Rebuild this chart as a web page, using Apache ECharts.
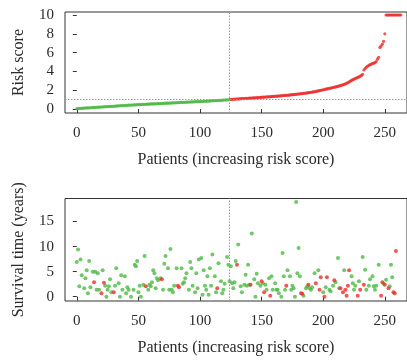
<!DOCTYPE html>
<html><head><meta charset="utf-8">
<script src="https://cdn.jsdelivr.net/npm/echarts@6/dist/echarts.min.js"></script>
<style>html,body{margin:0;padding:0;background:#fff}#c{width:407px;height:362px}</style>
</head><body><div id="c"></div><script>
const xTicks = [0, 50, 100, 150, 200, 250];
const riskTicks = [0, 2, 4, 6, 8, 10];
const survTicks = [0, 5, 10, 15];
const cutoffPatient = 124;
const riskCutoff = 1.0;
const xTitle = 'Patients (increasing risk score)';
const riskTitle = 'Risk score';
const survTitle = 'Survival time (years)';

// risk scores, low-risk group (patients 0..124)
const lowRisk = [
0.04,0.05,0.06,0.07,0.08,0.09,0.10,0.11,0.12,0.12,
0.13,0.14,0.15,0.16,0.17,0.18,0.19,0.20,0.20,0.21,
0.22,0.23,0.24,0.25,0.25,0.26,0.27,0.28,0.29,0.29,
0.30,0.31,0.32,0.33,0.34,0.35,0.36,0.37,0.37,0.38,
0.39,0.40,0.41,0.42,0.42,0.43,0.44,0.45,0.45,0.46,
0.47,0.47,0.48,0.49,0.50,0.50,0.51,0.52,0.52,0.53,
0.54,0.54,0.55,0.56,0.56,0.57,0.58,0.58,0.59,0.60,
0.60,0.61,0.62,0.62,0.63,0.64,0.64,0.65,0.66,0.66,
0.67,0.68,0.68,0.69,0.70,0.70,0.71,0.72,0.72,0.73,
0.74,0.74,0.75,0.76,0.76,0.77,0.78,0.78,0.79,0.80,
0.80,0.81,0.82,0.82,0.83,0.84,0.85,0.85,0.86,0.87,
0.88,0.88,0.89,0.90,0.91,0.92,0.92,0.93,0.94,0.95,
0.96,0.97,0.98,0.99,1.00];
// risk scores, high-risk group (patients 125..263)
const highRisk = [
1.02,1.03,1.04,1.05,1.06,1.07,1.08,1.09,1.10,1.10,
1.11,1.12,1.13,1.14,1.15,1.16,1.17,1.17,1.18,1.19,
1.20,1.21,1.22,1.23,1.24,1.25,1.26,1.27,1.28,1.29,
1.30,1.31,1.32,1.33,1.34,1.35,1.36,1.37,1.38,1.39,
1.40,1.41,1.42,1.44,1.45,1.46,1.47,1.48,1.50,1.51,
1.53,1.54,1.56,1.57,1.59,1.60,1.62,1.63,1.65,1.67,
1.68,1.70,1.72,1.74,1.76,1.78,1.80,1.82,1.84,1.87,
1.90,1.93,1.96,1.99,2.02,2.05,2.08,2.11,2.14,2.17,
2.20,2.23,2.26,2.29,2.32,2.35,2.38,2.42,2.46,2.50,
2.54,2.58,2.62,2.68,2.74,2.80,2.88,2.96,3.04,3.12,
3.18,3.24,3.30,3.36,3.42,3.50,3.58,3.70,4.15,4.30,
4.45,4.55,4.65,4.72,4.78,4.84,4.88,4.94,5.05,5.30,
5.50,6.55,6.70,6.90,7.20,8.00,
10,10,10,10,10,10,10,10,10,10,10,10,10];
const highStart = 125;

// survival panel: patient index, survival time (years), dead (1) / alive (0)
const survIdx = [
0,1,2,3,4,6,7,8,9,10,11,13,15,14,16,17,18,20,21,22,23,24,25,26,27,28,30,31,32,34,35,36,37,39,40,41,42,44,46,47,48,49,
50,51,52,54,55,56,58,59,60,61,62,63,64,65,66,68,69,70,71,72,74,75,76,77,78,79,81,82,83,85,86,87,88,89,91,92,93,94,96,97,98,99,
101,102,103,104,105,106,107,108,109,110,112,113,114,115,117,118,119,120,122,123,124,125,126,127,128,129,130,131,133,134,136,137,138,139,140,141,142,144,145,146,147,149,
150,151,152,153,154,156,157,158,159,161,162,163,164,166,167,168,169,170,171,173,174,175,176,177,178,179,180,181,182,183,184,186,187,188,189,190,191,193,194,196,197,198,
200,201,202,203,205,206,208,209,210,212,213,214,216,217,218,219,220,221,223,224,225,226,228,229,230,232,233,234,235,237,238,240,241,242,243,245,247,248,249,250,251,253,254,255,256,257,258,259];
const survYears = [
6.9,9.4,2.1,7.4,4.3,1.7,3.7,5.3,0.7,7.1,1.9,5.0,5.0,2.9,1.4,4.7,1.4,0.7,5.3,2.8,2.2,0,1.4,2.1,3.5,0.9,0.9,2.2,5.7,2.7,0,4.3,1.4,4.1,0.7,1.9,1.4,0,1.4,6.4,6.1,7.1,
0.9,2.2,0,2.4,8.1,2.1,1.4,2.4,2.1,2.9,5.3,4.7,1.7,3.7,3.3,3.7,3.5,1.4,6.6,8.1,5.7,1.4,9.5,1.4,0.9,2.2,5.7,2.2,1.9,5.7,2.6,2.9,3.7,4.7,1.4,6.9,5.7,2.2,0.9,4.7,1.7,7.4,
7.7,0.4,5.3,2.2,1.4,4.1,0.4,5.7,2.2,8.4,4.1,0.9,1.7,6.7,3.1,0.7,1.4,2.6,7.9,6.4,3.1,6.1,2.7,1.7,2.9,7.1,6.4,10.4,2.1,0.9,2.4,4.4,2.2,6.4,2.4,2.4,12.6,3.5,0,4.6,2.7,2.2,
3.1,2.7,0.9,2.4,1.4,3.7,0.2,4.1,1.4,2.7,1.4,1.4,0.7,0,8.7,4.1,1.4,2.2,5.3,4.1,1.4,2.2,1.7,0,18.9,4.7,9.7,4.1,0.7,0.6,0.2,1.7,2.1,2.4,1.7,1.4,1.9,4.7,2.7,5.3,1.4,3.9,
0.9,0,1.9,3.9,1.4,1.1,2.2,3.3,2.9,7.7,1.7,1.7,0.9,5.3,1.4,0.2,2.2,5.3,4.1,2.7,1.4,2.2,0.2,3.1,1.4,7.9,2.4,5.4,1.4,2.2,3.5,4.1,2.1,1.4,2.2,6.4,0.2,2.9,2.6,2.4,3.4,1.7,2.1,6.4,3.9,0.9,0.7,9.1];
const survDead = [
0,0,0,0,0,0,0,0,0,0,0,0,0,1,0,0,0,1,0,1,0,0,0,0,0,0,1,0,0,0,0,0,0,0,0,0,0,0,0,0,0,0,
0,0,0,0,0,1,0,0,0,0,0,0,0,0,0,0,1,0,0,0,0,0,0,0,0,0,0,1,1,0,0,0,0,0,0,0,0,0,0,0,0,0,
0,0,0,0,0,0,0,0,0,0,0,0,1,0,0,0,0,0,0,0,0,0,0,0,0,0,1,0,0,0,0,0,0,0,0,1,0,0,0,0,0,0,
1,0,1,0,0,0,1,0,0,0,0,0,0,0,0,0,0,1,0,0,0,0,0,0,0,0,0,0,1,1,0,0,0,1,0,0,0,0,1,0,1,1,
0,1,0,1,0,0,0,1,0,0,0,1,1,0,1,1,1,1,0,0,0,0,1,0,1,0,1,0,0,0,0,0,0,0,0,0,1,1,0,1,0,1,0,0,0,1,1,1];

const GREEN = '#4fb945', RED = '#ee2d2d';
const FONT = 'Liberation Serif';
const TXT = '#2a2a2a';

const alive = [], dead = [];
survIdx.forEach((x, i) => (survDead[i] ? dead : alive).push([x, survYears[i]]));

function xAxisCfg(g) {
  return {
    type: 'value', gridIndex: g, min: -9.6, max: 268,
    name: xTitle, nameLocation: 'middle', nameGap: 39,
    nameTextStyle: { fontFamily: FONT, fontSize: 16, color: TXT },
    axisLine: { show: false },
    axisTick: { show: true, customValues: xTicks, length: 4, lineStyle: { color: '#333' } },
    axisLabel: { customValues: xTicks, margin: 13, fontFamily: FONT, fontSize: 15, color: TXT },
    splitLine: { show: false }
  };
}
function yAxisCfg(g, min, max, ticks, title) {
  return {
    type: 'value', gridIndex: g, min: min, max: max,
    name: title, nameLocation: 'middle', nameGap: 38, nameRotate: 90,
    nameTextStyle: { fontFamily: FONT, fontSize: 16, color: TXT },
    axisLine: { show: false },
    axisTick: { show: true, customValues: ticks, length: 4, lineStyle: { color: '#333' } },
    axisLabel: { customValues: ticks, margin: 11, fontFamily: FONT, fontSize: 15, color: TXT },
    splitLine: { show: false }
  };
}
const refLine = { color: '#9a9a9a', type: [1.5, 1.5], width: 1 };

const chart = echarts.init(document.getElementById('c'), null, { renderer: 'canvas' });
chart.setOption({
  animation: false,
  backgroundColor: '#fff',
  grid: [
    { left: 65, top: 12, width: 347, height: 101, show: true, borderColor: '#333', borderWidth: 1, backgroundColor: 'transparent' },
    { left: 65, top: 198.5, width: 347, height: 102.5, show: true, borderColor: '#333', borderWidth: 1, backgroundColor: 'transparent' }
  ],
  xAxis: [xAxisCfg(0), xAxisCfg(1)],
  yAxis: [
    yAxisCfg(0, -0.42, 10.32, riskTicks, riskTitle),
    yAxisCfg(1, -0.86, 19.6, survTicks, survTitle)
  ],
  series: [
    { type: 'scatter', xAxisIndex: 0, yAxisIndex: 0, symbolSize: 3.2, itemStyle: { color: GREEN },
      data: lowRisk.map((v, i) => [i, v]),
      markLine: { silent: true, symbol: 'none', label: { show: false }, lineStyle: refLine,
        data: [{ xAxis: cutoffPatient }, { yAxis: riskCutoff }] } },
    { type: 'scatter', xAxisIndex: 0, yAxisIndex: 0, symbolSize: 3.2, itemStyle: { color: RED },
      data: highRisk.map((v, i) => [highStart + i, v]) },
    { type: 'scatter', xAxisIndex: 1, yAxisIndex: 1, symbolSize: 4, itemStyle: { color: GREEN },
      data: alive,
      markLine: { silent: true, symbol: 'none', label: { show: false }, lineStyle: refLine,
        data: [{ xAxis: cutoffPatient }] } },
    { type: 'scatter', xAxisIndex: 1, yAxisIndex: 1, symbolSize: 4, itemStyle: { color: RED },
      data: dead }
  ]
});
</script></body></html>
